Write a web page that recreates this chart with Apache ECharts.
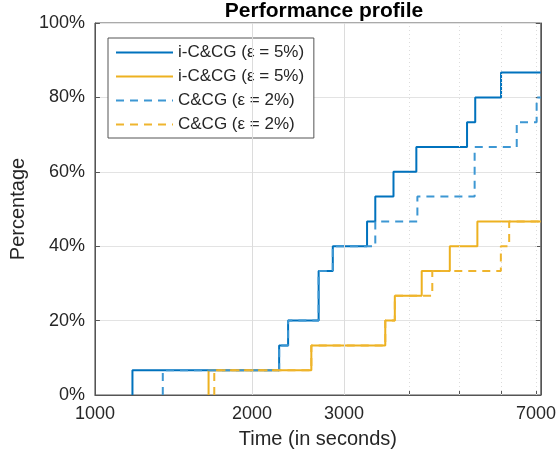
<!DOCTYPE html>
<html>
<head>
<meta charset="utf-8">
<script src="https://cdn.jsdelivr.net/npm/echarts@6.0.0/dist/echarts.min.js"></script>
<style>
  html, body { margin: 0; padding: 0; background: #fff; }
  #chart { width: 559px; height: 461px; }
</style>
</head>
<body>
<div id="chart"></div>
<script>
// step times (seconds) and cumulative share of solved instances (%)
const blueSolidTimes = [1180, 2254, 2345, 2683, 2856, 3322, 3445, 3733, 4129, 5164, 5354, 6000];
const blueSolidPct = [6.67, 13.33, 20, 33.33, 40, 46.67, 53.33, 60, 66.67, 73.33, 80, 86.67];

const yellowSolidTimes = [1651, 2598, 3600, 3755, 4228, 4786, 5405];
const yellowSolidPct = [6.67, 13.33, 20, 26.67, 33.33, 40, 46.67];

const blueDashTimes = [1349, 2254, 2345, 2683, 2856, 3445, 4148, 5340, 6430, 7020];
const blueDashPct = [6.67, 13.33, 20, 33.33, 40, 46.67, 53.33, 66.67, 73.33, 80];

const yellowDashTimes = [1693, 2598, 3600, 3755, 4430, 5995, 6219];
const yellowDashPct = [6.67, 13.33, 20, 26.67, 33.33, 40, 46.67];

const seriesNames = ['i-C&CG (ε = 5%)', 'i-C&CG (ε = 5%) ', 'C&CG (ε = 2%)', 'C&CG (ε = 2%) '];
const xLabelValues = [1000, 2000, 3000, 7000];
const xTickValues = [2000, 3000, 4000, 5000, 6000, 7000];
const majorGridX = [2000, 3000];
const minorGridX = [4000, 5000, 6000, 7000];

const X_MIN = 1000;
const X_MAX = 7150;
const FONT = '"Liberation Sans", Arial, sans-serif';
const TXT = '#262626';
const BLUE = '#0072BD';
const YELLOW = '#EDB120';

function stepData(times, pct) {
  let pts = [[times[0], 0]];
  times.forEach((t, i) => pts.push([t, pct[i]]));
  pts.push([X_MAX, pct[pct.length - 1]]);
  return pts;
}

function lineSeries(name, times, pct, color, dashed, z) {
  return {
    name: name,
    type: 'line',
    step: 'end',
    symbol: 'none',
    z: z,
    lineStyle: { color: color, width: 2, type: dashed ? [8, 6] : 'solid' },
    // transparent so the legend shows only the line sample
    itemStyle: { color: 'rgba(0,0,0,0)', borderWidth: 0 },
    emphasis: { disabled: true },
    data: stepData(times, pct)
  };
}

function gridLines(values, type) {
  return values.map(v => ({
    xAxis: v,
    lineStyle: { color: '#dcdcdc', width: 1, type: type }
  }));
}

let chart = echarts.init(document.getElementById('chart'));
chart.setOption({
  animation: false,
  textStyle: { fontFamily: FONT },
  title: {
    text: 'Performance profile',
    left: 319,
    textAlign: 'center',
    top: -4,
    textStyle: { fontFamily: FONT, fontSize: 21, fontWeight: 'bold', color: '#000' }
  },
  grid: {
    left: 94, right: 16, top: 23, bottom: 66,
    show: true,
    borderColor: '#555',
    borderWidth: 1,
    backgroundColor: '#fff'
  },
  legend: {
    orient: 'vertical',
    left: 108,
    top: 38,
    itemWidth: 57,
    itemHeight: 14,
    itemGap: 7,
    padding: [6, 5, 5, 7],
    borderColor: '#555',
    borderWidth: 1,
    backgroundColor: '#fff',
    itemStyle: { opacity: 0 },
    textStyle: { fontFamily: FONT, fontSize: 17, color: TXT },
    data: seriesNames
  },
  xAxis: {
    type: 'log',
    logBase: 10,
    min: X_MIN,
    max: X_MAX,
    name: 'Time (in seconds)',
    nameLocation: 'middle',
    nameGap: 34,
    nameTextStyle: { fontFamily: FONT, fontSize: 20, color: TXT },
    axisLine: { show: true, lineStyle: { color: '#555' } },
    axisTick: { show: true, inside: true, length: 4, customValues: xTickValues, lineStyle: { color: '#555' } },
    axisLabel: {
      fontFamily: FONT, fontSize: 18, color: TXT, margin: 10,
      customValues: xLabelValues,
      formatter: v => String(Math.round(v))
    },
    splitLine: { show: false }
  },
  yAxis: [{
    type: 'value',
    min: 0,
    max: 100,
    interval: 20,
    name: 'Percentage',
    nameLocation: 'middle',
    nameGap: 62,
    nameTextStyle: { fontFamily: FONT, fontSize: 20, color: TXT },
    axisLine: { show: true, lineStyle: { color: '#555' } },
    axisTick: { show: true, inside: true, length: 5, lineStyle: { color: '#555' } },
    axisLabel: { fontFamily: FONT, fontSize: 18, color: TXT, margin: 10, formatter: '{value}%' },
    splitLine: { show: true, lineStyle: { color: '#e3e3e3', width: 1 } }
  }, {
    type: 'value',
    position: 'right',
    min: 0,
    max: 100,
    interval: 20,
    axisLine: { show: true, lineStyle: { color: '#555' } },
    axisTick: { show: true, inside: true, length: 5, lineStyle: { color: '#555' } },
    axisLabel: { show: false },
    splitLine: { show: false }
  }],
  series: [
    {
      name: 'grid',
      type: 'line',
      z: 1,
      data: [],
      silent: true,
      markLine: {
        silent: true,
        symbol: 'none',
        label: { show: false },
        data: gridLines(majorGridX, 'solid').concat(gridLines(minorGridX, [1, 3]))
      }
    },
    lineSeries(seriesNames[0], blueSolidTimes, blueSolidPct, BLUE, false, 3),
    lineSeries(seriesNames[1], yellowSolidTimes, yellowSolidPct, YELLOW, false, 4),
    lineSeries(seriesNames[2], blueDashTimes, blueDashPct, '#3d97d3', true, 5),
    lineSeries(seriesNames[3], yellowDashTimes, yellowDashPct, '#efb52e', true, 6)
  ]
});
</script>
</body>
</html>
